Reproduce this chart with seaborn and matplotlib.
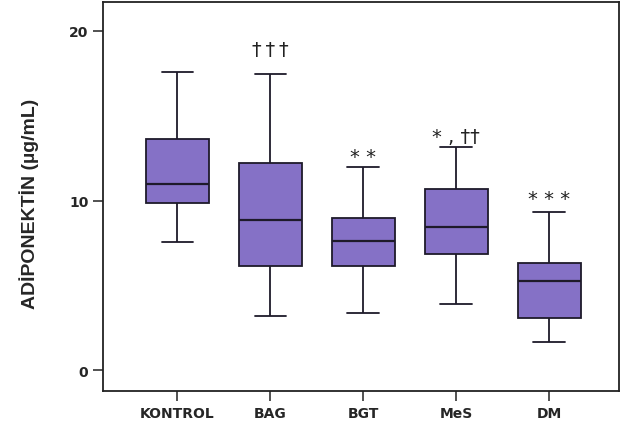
import pandas as pd
import numpy as np
import seaborn as sns
import matplotlib.pyplot as plt

groups = ["KONTROL", "BAG", "BGT", "MeS", "DM"]
# min, Q1, median, Q3, max
lows = [7.57, 3.22, 3.37, 3.88, 1.66]
q1s = [9.86, 6.16, 6.16, 6.86, 3.06]
medians = [11.0, 8.84, 7.63, 8.47, 5.28]
q3s = [13.65, 12.24, 8.98, 10.7, 6.33]
highs = [17.57, 17.47, 12.0, 13.18, 9.35]
marks = ["", "\u2020\u2009\u2020\u2009\u2020", "* *", "* , \u2020\u2020", "* * *"]
mark_y = [0, 18.9, 12.6, 13.8, 10.1]

rows = []
for g, a, b, c, d, e in zip(groups, lows, q1s, medians, q3s, highs):
    for v in (a, b, c, d, e):
        rows.append({"grup": g, "adiponektin": v})
data = pd.DataFrame(rows)

sns.set_style("white")
plt.rcParams['font.family'] = ['DejaVu Sans']

fig = plt.figure(figsize=(6.22, 4.27), dpi=100)
ax = fig.add_axes([0.1656, 0.082, 0.8294, 0.911])

line = dict(color="#1e1a2a", linewidth=1.3)
sns.boxplot(data=data, x="grup", y="adiponektin", order=groups, whis=np.inf,
            width=0.68, color="#8571c6", saturation=1, linecolor="#1e1a2a",
            linewidth=1.3, ax=ax,
            boxprops=dict(edgecolor="#1e1a2a", linewidth=1.3),
            whiskerprops=line, capprops=line, medianprops=dict(color="#1e1a2a", linewidth=1.6))

for i, (m, y) in enumerate(zip(marks, mark_y)):
    if m:
        ax.text(i, y, m, ha="center", va="center", fontsize=14,
                family=['DejaVu Sans'], color="#222222")

ax.set_xlim(-0.8, 4.75)
ax.set_ylim(-1.22, 21.7)
ax.set_yticks([0, 10, 20])
ax.set_xlabel("")
ax.set_ylabel("ADİPONEKTİN (µg/mL)", fontsize=14, fontweight="bold",
              family=['Liberation Sans'])
ax.yaxis.set_label_coords(-0.124, 0.483)
ax.tick_params(axis="both", which="major", direction="out", length=7, width=1.1,
               color="#222222", labelsize=10, left=True, bottom=True)
for lab in ax.get_xticklabels() + ax.get_yticklabels():
    lab.set_fontweight("bold")
for sp in ax.spines.values():
    sp.set_visible(True)
    sp.set_color("#222222")
    sp.set_linewidth(1.3)

plt.savefig("out.png", dpi=100)
plt.close()
